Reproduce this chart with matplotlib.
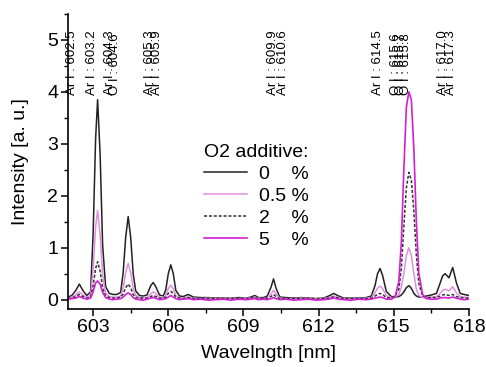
import matplotlib
matplotlib.use("Agg")
import matplotlib.pyplot as plt
from matplotlib.ticker import MultipleLocator

plt.rcParams["font.family"] = ["Liberation Sans", "DejaVu Sans"]

# wavelength grid [nm], shared by all spectra
wl = [602.0, 602.15, 602.3, 602.45, 602.6, 602.75, 602.9, 603.0, 603.1, 603.18,
      603.28, 603.38, 603.5, 603.65, 603.8, 603.95, 604.1, 604.2, 604.3, 604.4,
      604.5, 604.6, 604.7, 604.85, 605.0, 605.15, 605.3, 605.4, 605.5, 605.65,
      605.8, 605.9, 606.0, 606.1, 606.2, 606.3, 606.45, 606.6, 606.8, 607.0,
      607.3, 607.6, 607.9, 608.2, 608.5, 608.8, 609.1, 609.3, 609.45, 609.6,
      609.8, 609.95, 610.1, 610.2, 610.3, 610.45, 610.7, 611.0, 611.3, 611.6,
      611.9, 612.2, 612.4, 612.6, 612.8, 613.0, 613.3, 613.6, 613.9, 614.1,
      614.25, 614.35, 614.45, 614.55, 614.7, 614.9, 615.05, 615.2, 615.3, 615.4,
      615.5, 615.6, 615.7, 615.8, 615.9, 616.0, 616.15, 616.3, 616.5, 616.7,
      616.85, 616.95, 617.05, 617.2, 617.35, 617.5, 617.65, 617.8, 618.0]

o2_0 = [0.05, 0.08, 0.17, 0.30, 0.17, 0.08, 0.15, 1.25, 3.10, 3.85,
        2.80, 1.05, 0.25, 0.12, 0.10, 0.10, 0.14, 0.52, 1.20, 1.60,
        1.20, 0.50, 0.17, 0.08, 0.07, 0.09, 0.27, 0.33, 0.25, 0.09,
        0.07, 0.19, 0.50, 0.67, 0.50, 0.18, 0.07, 0.06, 0.10, 0.05,
        0.04, 0.04, 0.03, 0.03, 0.03, 0.04, 0.03, 0.05, 0.08, 0.04,
        0.04, 0.07, 0.24, 0.40, 0.22, 0.05, 0.04, 0.03, 0.04, 0.03,
        0.02, 0.03, 0.07, 0.12, 0.07, 0.03, 0.03, 0.03, 0.04, 0.07,
        0.27, 0.50, 0.60, 0.47, 0.16, 0.06, 0.05, 0.06, 0.09, 0.15,
        0.23, 0.27, 0.22, 0.12, 0.07, 0.05, 0.05, 0.07, 0.09, 0.12,
        0.32, 0.46, 0.50, 0.42, 0.62, 0.32, 0.12, 0.10, 0.08]

o2_05 = [0.03, 0.05, 0.09, 0.15, 0.09, 0.05, 0.08, 0.58, 1.40, 1.72,
         1.25, 0.47, 0.12, 0.06, 0.05, 0.05, 0.07, 0.22, 0.52, 0.70,
         0.52, 0.22, 0.08, 0.04, 0.04, 0.04, 0.11, 0.15, 0.12, 0.04,
         0.04, 0.09, 0.21, 0.28, 0.21, 0.08, 0.04, 0.03, 0.05, 0.03,
         0.02, 0.03, 0.02, 0.02, 0.03, 0.02, 0.03, 0.03, 0.05, 0.03,
         0.02, 0.04, 0.11, 0.18, 0.11, 0.03, 0.02, 0.02, 0.03, 0.02,
         0.02, 0.02, 0.04, 0.07, 0.04, 0.02, 0.02, 0.02, 0.03, 0.04,
         0.13, 0.22, 0.26, 0.21, 0.08, 0.04, 0.05, 0.10, 0.25, 0.50,
         0.85, 1.00, 0.85, 0.50, 0.20, 0.08, 0.04, 0.04, 0.05, 0.06,
         0.12, 0.18, 0.20, 0.17, 0.25, 0.13, 0.06, 0.05, 0.04]

o2_2 = [0.02, 0.03, 0.06, 0.10, 0.06, 0.03, 0.05, 0.26, 0.60, 0.73,
        0.55, 0.22, 0.07, 0.04, 0.03, 0.03, 0.05, 0.11, 0.23, 0.30,
        0.23, 0.10, 0.04, 0.03, 0.03, 0.03, 0.06, 0.08, 0.06, 0.03,
        0.03, 0.05, 0.12, 0.16, 0.12, 0.05, 0.03, 0.02, 0.04, 0.02,
        0.02, 0.02, 0.02, 0.02, 0.02, 0.02, 0.02, 0.03, 0.04, 0.02,
        0.02, 0.03, 0.06, 0.10, 0.06, 0.02, 0.02, 0.02, 0.02, 0.02,
        0.02, 0.02, 0.03, 0.05, 0.03, 0.02, 0.02, 0.02, 0.02, 0.03,
        0.07, 0.10, 0.12, 0.10, 0.04, 0.03, 0.08, 0.20, 0.60, 1.40,
        2.15, 2.45, 2.30, 1.70, 0.85, 0.30, 0.07, 0.04, 0.04, 0.04,
        0.07, 0.09, 0.10, 0.08, 0.10, 0.06, 0.04, 0.03, 0.03]

o2_5 = [0.01, 0.02, 0.03, 0.06, 0.03, 0.01, 0.03, 0.15, 0.32, 0.36,
        0.30, 0.14, 0.04, 0.01, 0.00, 0.01, 0.02, 0.05, 0.10, 0.13,
        0.10, 0.04, 0.01, 0.00, -0.01, 0.01, 0.03, 0.04, 0.03, 0.00,
        0.01, 0.02, 0.05, 0.08, 0.05, 0.02, 0.00, 0.01, 0.02, 0.00,
        0.01, -0.01, 0.00, 0.01, -0.01, 0.01, 0.00, 0.01, 0.02, 0.00,
        0.01, 0.00, 0.02, 0.04, 0.02, 0.00, 0.01, -0.01, 0.00, 0.01,
        -0.01, 0.00, 0.01, 0.03, 0.01, 0.00, -0.01, 0.01, 0.00, 0.01,
        0.03, 0.04, 0.05, 0.04, 0.01, 0.01, 0.05, 0.35, 1.10, 2.50,
        3.70, 4.00, 3.85, 2.90, 1.50, 0.50, 0.10, 0.02, 0.01, 0.01,
        0.03, 0.04, 0.04, 0.03, 0.05, 0.03, 0.01, 0.00, 0.01]

legend_labels = ["0    %", "0.5 %", "2    %", "5    %"]

line_names = ["Ar I : 602.5", "Ar I : 603.2", "Ar I : 604.3", "O I : 604.6",
              "Ar I : 605.3", "Ar I : 605.9", "Ar I : 609.9", "Ar I : 610.6",
              "Ar I : 614.5", "O I : 615.6", "O I : 615.7", "O I : 615.8",
              "Ar I : 617.0", "Ar I : 617.3"]
line_label_x = [602.16, 602.96, 603.68, 603.88, 605.28, 605.56, 610.16, 610.56,
                614.36, 615.08, 615.28, 615.48, 616.96, 617.28]

fig = plt.figure(figsize=(4.86, 3.67), dpi=100)
ax = fig.add_axes([0.14, 0.158, 0.825, 0.804])

ax.plot(wl, o2_0, color="#222222", lw=1.1, label=legend_labels[0])
ax.plot(wl, o2_05, color="#e08ee0", lw=1.1, label=legend_labels[1])
ax.plot(wl, o2_2, color="#333333", lw=1.1, ls=(0, (2, 1.2)), label=legend_labels[2])
ax.plot(wl, o2_5, color="#d21ed2", lw=1.2, label=legend_labels[3])

# emission line annotations, overlapping as in the original figure
for name, x in zip(line_names, line_label_x):
    ax.text(x, 3.94, name, rotation=90, ha="center", va="bottom", fontsize=9.5)

ax.set_xlim(602, 618)
ax.set_ylim(-0.18, 5.5)
ax.xaxis.set_minor_locator(MultipleLocator(1.5))
ax.yaxis.set_minor_locator(MultipleLocator(0.5))
ax.set_xticks([603, 606, 609, 612, 615, 618])
ax.set_yticks([0, 1, 2, 3, 4, 5])
ax.tick_params(which="major", length=5, width=1.1, labelsize=14, pad=2)
ax.tick_params(which="minor", length=3, width=1.0)
for s in ("top", "right"):
    ax.spines[s].set_visible(False)
for s in ("left", "bottom"):
    ax.spines[s].set_linewidth(1.2)

ax.set_xlabel("Wavelngth [nm]", fontsize=14, labelpad=7)
ax.set_ylabel("Intensity [a. u.]", fontsize=14, labelpad=13)

leg = ax.legend(title="O2 additive:", loc="upper left", bbox_to_anchor=(0.32, 0.585),
                frameon=False, fontsize=14, title_fontsize=14, handlelength=2.2,
                handletextpad=0.6, labelspacing=0.22, borderaxespad=0)
leg._legend_box.align = "left"

fig.savefig("out.png", dpi=100)
